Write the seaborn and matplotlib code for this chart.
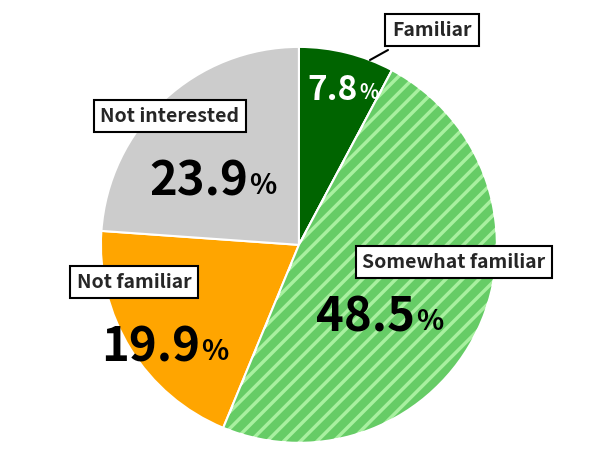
import matplotlib
matplotlib.use("Agg")
import matplotlib.pyplot as plt
import seaborn as sns
from matplotlib.patches import Wedge

sns.set_style("white")
plt.rcParams['font.family'] = ['Noto Sans CJK JP', 'DejaVu Sans']
plt.rcParams['hatch.linewidth'] = 6

labels = ["Familiar", "Somewhat familiar", "Not familiar", "Not interested"]
values = [7.8, 48.5, 19.9, 23.9]
colors = ["#006400", "#A8F0A0", "#FFA500", "#CCCCCC"]

W, H = 599, 470
fig = plt.figure(figsize=(W/100, H/100), dpi=100)
ax = fig.add_axes([0.499-0.3305, 0.479-0.4213, 0.661, 0.8426])
wedges, _ = ax.pie(values, colors=colors, startangle=90, counterclock=False,
                   wedgeprops=dict(edgecolor="white", linewidth=1.5))
ax.set_xlim(-1, 1)
ax.set_ylim(-1, 1)
w = wedges[1]
ax.add_patch(Wedge(w.center, w.r, w.theta1, w.theta2, facecolor="none",
                   edgecolor="#66CC66", linewidth=0, hatch="//"))
ax.add_patch(Wedge(w.center, w.r, w.theta1, w.theta2, facecolor="none",
                   edgecolor="white", linewidth=1.5))
ax.set_aspect("equal")

def px(x, y):
    return x / W, 1 - y / H

box = dict(boxstyle="square,pad=0.35", facecolor="white", edgecolor="black", linewidth=1.5)
label_pos = [(432, 30), (454, 262), (134, 282), (170, 116)]
pct_pos = [(358, 90), (415, 318), (200, 348), (248, 182)]
pct_col = ["white", "black", "black", "black"]
sizes = [24, 34, 34, 34]
for lab, lp, v, pp, c, s in zip(labels, label_pos, values, pct_pos, pct_col, sizes):
    fig.text(*px(*lp), lab, ha="center", va="center", fontsize=14, fontweight="bold", bbox=box)
    fig.text(*px(*pp), f"{v:.1f}", ha="right", va="center", fontsize=s, fontweight="bold", color=c)
    fig.text(*px(pp[0] + 1, pp[1] + s * 0.12), "%", ha="left", va="center",
             fontsize=s * 0.6, fontweight="bold", color=c)

fig.add_artist(plt.Line2D([px(388, 50)[0], px(370, 60)[0]], [px(388, 50)[1], px(370, 60)[1]],
                          color="black", linewidth=1.5))
fig.savefig("out.png", dpi=100)
